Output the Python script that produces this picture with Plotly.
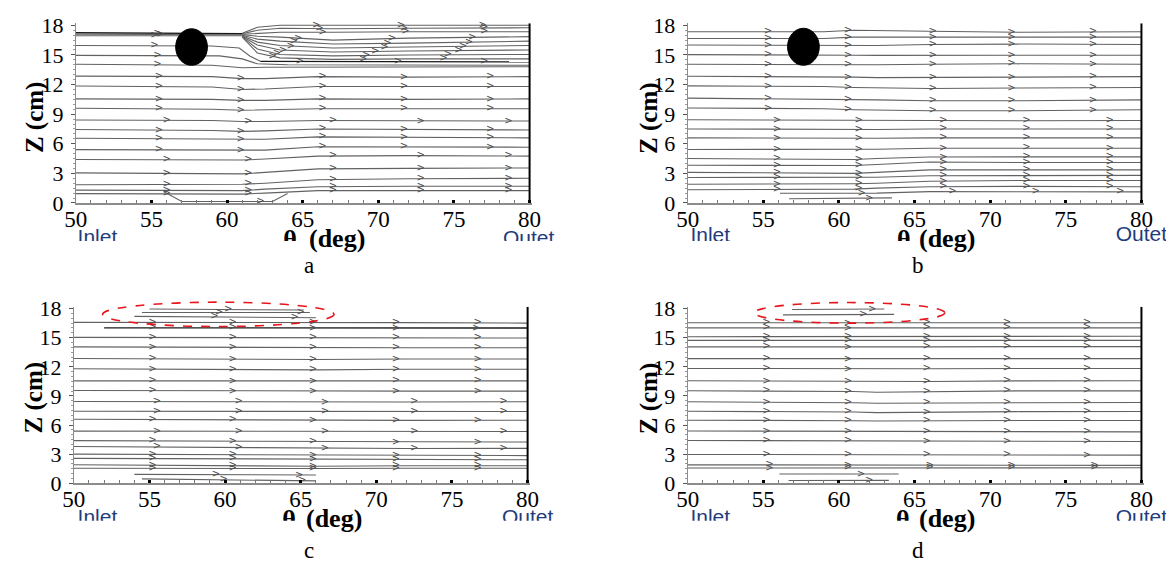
import numpy as np
import plotly.graph_objects as go

W, H = 1175, 575

# ======================= DATA =======================
TICK_X = [50, 55, 60, 65, 70, 75, 80]
TICK_Z = [0, 3, 6, 9, 12, 15, 18]

# ---- panel a (cylinder at the top, streamlines) ----
A_GRID = [50, 59, 61, 62.5, 66, 72, 80]
A_ROWS = [
    [12.85, 12.80, 12.60, 12.60, 12.80, 12.75, 12.80],
    [11.85, 11.75, 11.50, 11.55, 11.80, 11.80, 11.80],
    [10.55, 10.50, 10.40, 10.40, 10.55, 10.50, 10.55],
    [9.60, 9.50, 9.40, 9.45, 9.55, 9.55, 9.55],
    [8.40, 8.35, 8.25, 8.25, 8.35, 8.30, 8.30],
    [7.45, 7.35, 7.25, 7.30, 7.50, 7.45, 7.40],
    [6.55, 6.45, 6.40, 6.45, 6.70, 6.65, 6.60],
    [5.40, 5.35, 5.30, 5.35, 5.70, 5.70, 5.65],
    [4.40, 4.35, 4.35, 4.45, 4.75, 4.80, 4.75],
    [3.05, 3.00, 2.95, 3.10, 3.45, 3.50, 3.55],
    [1.85, 1.85, 1.90, 2.00, 2.35, 2.45, 2.50],
    [1.30, 1.30, 1.25, 1.40, 1.65, 1.70, 1.70],
    [0.95, 0.95, 0.90, 1.00, 1.25, 1.25, 1.25],
]
A_ROW_SET = [0, 0, 0, 0, 1, 0, 0, 0, 1, 1, 1, 1, 1]
A_ARROW_SETS = [[55.5, 60.9, 66.3, 71.7, 77.4], [56.0, 61.4, 67.0, 72.8, 78.6]]
A_EXTRA_X = [
    [50, 61],
    [50, 61],
    [50, 59, 60.8, 61.5, 62.2],
    [50, 59.5, 61, 62, 64, 80],
    [50, 59, 61, 62.5, 80],
    [61, 62, 63.5, 67, 72, 80],
    [61, 62, 63.5, 67, 72, 80],
    [61, 62, 63.5, 67, 72, 80],
    [61, 62, 63.5, 67, 72, 80],
    [61, 62, 63.5, 67, 72, 80],
    [61, 62, 63.5, 67, 72, 80],
    [61, 62, 63.5, 67, 72, 80],
    [61, 62, 63.5, 67, 72, 80],
    [61, 62, 63.5, 67, 72, 80],
    [55.8, 57, 63, 64],
]
A_EXTRA_Y = [
    [17.10, 17.05],
    [16.95, 16.95],
    [15.95, 15.90, 15.70, 14.90, 14.35],
    [14.95, 14.90, 14.60, 14.10, 14.00, 13.95],
    [14.05, 13.95, 13.70, 13.75, 13.80],
    [17.20, 17.80, 18.00, 18.00, 18.00, 18.00],
    [17.15, 17.50, 17.70, 17.65, 17.70, 17.75],
    [17.10, 17.20, 17.30, 17.30, 17.35, 17.35],
    [17.05, 16.90, 16.80, 16.50, 16.70, 16.85],
    [17.00, 16.60, 16.40, 16.10, 16.20, 16.40],
    [16.95, 16.30, 15.95, 15.70, 15.80, 15.95],
    [16.90, 16.00, 15.50, 15.30, 15.40, 15.50],
    [16.85, 15.60, 15.05, 14.90, 15.00, 15.05],
    [16.80, 15.20, 14.70, 14.55, 14.60, 14.60],
    [1.15, 0.15, 0.15, 0.95],
]
A_EXTRA_ARROWS = [
    [55.6], [55.2],
    [55.2], [55.4], [55.4],
    [65.9, 71.5, 76.9], [66.1, 71.7, 77.0], [66.3, 71.8, 77.0],
    [64.7, 70.9, 76.2], [64.4, 70.6, 76.0], [64.2, 70.4, 75.6],
    [63.7, 69.8, 75.3], [63.3, 69.2, 74.6], [63.0, 69.0, 74.3],
    [62.2],
]
A_DARK_X = [[50, 61], [62.2, 80]]
A_DARK_Y = [[17.25, 17.15], [14.35, 14.30]]
A_DARK_ARROWS = [[55.4], [64.8, 71.3, 77.0]]

# ---- panel b ----
B_GRID = [50, 59, 61, 62.5, 66, 72, 80]
B_ROWS = [
    [17.35, 17.35, 17.50, 17.45, 17.40, 17.30, 17.35],
    [16.67, 16.67, 16.80, 16.80, 16.80, 16.80, 16.80],
    [16.00, 16.00, 16.00, 15.95, 16.05, 16.10, 16.05],
    [15.03, 15.03, 14.97, 14.95, 14.95, 14.97, 14.97],
    [14.05, 14.00, 14.00, 14.00, 14.05, 14.10, 14.05],
    [12.84, 12.80, 12.75, 12.70, 12.70, 12.75, 12.80],
    [11.86, 11.80, 11.70, 11.65, 11.60, 11.65, 11.70],
    [10.62, 10.55, 10.50, 10.45, 10.35, 10.35, 10.45],
    [9.62, 9.55, 9.45, 9.40, 9.35, 9.35, 9.45],
    [8.43, 8.38, 8.33, 8.33, 8.33, 8.33, 8.35],
    [7.50, 7.45, 7.40, 7.45, 7.50, 7.50, 7.50],
    [6.60, 6.55, 6.50, 6.55, 6.60, 6.60, 6.60],
    [5.42, 5.40, 5.40, 5.45, 5.55, 5.57, 5.55],
    [4.51, 4.45, 4.40, 4.50, 4.65, 4.67, 4.67],
    [3.82, 3.80, 3.80, 3.90, 4.15, 4.10, 4.10],
    [3.10, 3.05, 3.00, 3.10, 3.35, 3.35, 3.35],
    [2.58, 2.55, 2.55, 2.60, 2.75, 2.80, 2.80],
    [1.90, 1.90, 1.95, 2.00, 2.20, 2.28, 2.28],
    [1.34, 1.35, 1.40, 1.50, 1.65, 1.68, 1.65],
]
B_ROW_SET = [0, 0, 0, 0, 0, 0, 0, 0, 0, 1, 1, 1, 1, 1, 1, 1, 1, 1, 1]
B_ARROW_SETS = [[55.3, 60.6, 66.2, 71.4, 76.8], [55.9, 61.3, 66.9, 72.4, 77.9]]
B_EXTRA_X = [[56.1, 59, 61, 62.5, 66, 72, 80], [56.7, 63.5]]
B_EXTRA_Y = [[0.98, 0.98, 0.95, 1.00, 1.15, 1.12, 1.12], [0.42, 0.52]]
B_EXTRA_ARROWS = [[61.5, 67.5, 73.0, 78.6], [62.0]]
B_DARK_X, B_DARK_Y, B_DARK_ARROWS = [], [], []

# ---- panel c ----
C_GRID = [50, 59, 61, 62.5, 66, 72, 80]
C_ROWS = [
    [16.58, 16.58, 16.58, 16.55, 16.52, 16.55, 16.50],
    [15.03, 15.03, 15.00, 15.00, 14.97, 15.00, 14.97],
    [14.05, 14.00, 14.00, 13.97, 13.97, 13.97, 13.97],
    [12.86, 12.80, 12.78, 12.75, 12.75, 12.80, 12.80],
    [11.80, 11.75, 11.72, 11.70, 11.68, 11.75, 11.75],
    [10.55, 10.55, 10.52, 10.50, 10.50, 10.55, 10.55],
    [9.56, 9.52, 9.50, 9.48, 9.47, 9.50, 9.50],
    [8.42, 8.40, 8.38, 8.35, 8.32, 8.38, 8.40],
    [7.42, 7.42, 7.40, 7.38, 7.35, 7.38, 7.40],
    [6.60, 6.55, 6.55, 6.50, 6.48, 6.48, 6.50],
    [5.37, 5.37, 5.35, 5.33, 5.33, 5.33, 5.33],
    [4.39, 4.35, 4.33, 4.30, 4.25, 4.25, 4.25],
    [3.79, 3.72, 3.70, 3.65, 3.60, 3.58, 3.60],
    [3.00, 2.95, 2.95, 2.90, 2.85, 2.85, 2.85],
    [2.57, 2.52, 2.50, 2.45, 2.42, 2.42, 2.42],
    [1.91, 1.85, 1.80, 1.75, 1.75, 1.80, 1.80],
    [1.55, 1.52, 1.50, 1.50, 1.52, 1.55, 1.55],
]
C_ROW_SET = [0, 0, 0, 0, 0, 0, 0, 1, 1, 0, 1, 0, 1, 0, 0, 0, 0]
C_ARROW_SETS = [[55.2, 60.5, 65.8, 71.3, 76.7], [55.5, 60.9, 66.6, 72.5, 78.4]]
C_EXTRA_X = [[54.0, 59.8, 65.0, 66.0], [54.5, 60.0, 66.0],
             [55.0, 65.2], [54.5, 65.6], [54.0, 66.0]]
C_EXTRA_Y = [[0.92, 0.92, 0.85, 0.85], [0.45, 0.36, 0.25],
             [17.95, 17.85], [17.60, 17.60], [17.20, 17.05]]
C_EXTRA_ARROWS = [[59.4, 64.9], [59.9, 65.1], [60.2], [59.6, 65.0], [59.3, 64.6]]
C_DARK_X = [[52.0, 61, 66, 80]]
C_DARK_Y = [[16.02, 16.02, 15.98, 16.00]]
C_DARK_ARROWS = [[55.2, 60.5, 65.8, 71.3, 76.6]]

# ---- panel d ----
D_GRID = [50, 59, 61, 62.5, 66, 72, 80]
D_ROWS = [
    [16.54, 16.54, 16.50, 16.52, 16.54, 16.54, 16.54],
    [16.01, 16.01, 15.97, 15.98, 16.01, 16.01, 16.01],
    [15.10, 15.10, 15.08, 15.10, 15.15, 15.15, 15.15],
    [14.72, 14.72, 14.70, 14.70, 14.72, 14.72, 14.72],
    [14.05, 14.05, 14.00, 14.02, 14.05, 14.08, 14.08],
    [12.84, 12.82, 12.78, 12.80, 12.84, 12.84, 12.84],
    [11.83, 11.80, 11.76, 11.76, 11.80, 11.83, 11.83],
    [10.56, 10.52, 10.50, 10.45, 10.48, 10.55, 10.56],
    [9.54, 9.50, 9.45, 9.38, 9.45, 9.52, 9.52],
    [8.40, 8.35, 8.30, 8.25, 8.28, 8.33, 8.33],
    [7.42, 7.40, 7.35, 7.28, 7.32, 7.38, 7.40],
    [6.50, 6.50, 6.45, 6.42, 6.45, 6.47, 6.47],
    [5.39, 5.37, 5.35, 5.33, 5.33, 5.35, 5.30],
    [4.41, 4.38, 4.35, 4.35, 4.35, 4.35, 4.30],
    [2.97, 2.97, 2.95, 2.93, 2.92, 2.92, 2.90],
    [1.90, 1.88, 1.85, 1.82, 1.82, 1.85, 1.85],
    [1.57, 1.57, 1.60, 1.60, 1.60, 1.60, 1.60],
]
D_ROW_SET = [0, 0, 0, 0, 0, 0, 0, 0, 0, 0, 0, 0, 0, 0, 0, 1, 1]
D_ARROW_SETS = [[55.2, 60.6, 65.8, 71.1, 76.4], [55.4, 60.6, 66.0, 71.4, 76.9]]
D_EXTRA_X = [[56.9, 63.0], [56.3, 63.65], [56.06, 63.95], [56.67, 63.3]]
D_EXTRA_Y = [[17.90, 17.95], [17.35, 17.40], [0.95, 0.95], [0.28, 0.30]]
D_EXTRA_ARROWS = [[62.2], [61.6], [61.45], [62.0]]
D_DARK_X, D_DARK_Y, D_DARK_ARROWS = [], [], []

# cylinder (panels a, b) and highlighted regions (panels c, d): theta0, theta1, z0, z1
CYL_A = [56.6, 58.7, 13.95, 17.65]
CYL_B = [56.6, 58.7, 13.95, 17.70]
ZONE_C = [51.9, 67.2, 16.15, 18.66]
ZONE_D = [54.4, 67.0, 16.50, 18.62]

# ======================= LAYOUT GEOMETRY (pixels) =======================
PX_DEG = 15.4
XMAX = 80.15
ZMAX = 18.2
PANELS = {
    1: dict(x0=65, y0=201, pz=10.28),
    2: dict(x0=688, y0=201, pz=10.28),
    3: dict(x0=63, y0=493, pz=10.11),
    4: dict(x0=688, y0=493, pz=10.11),
}

LINE_C = "#626262"
ARROW_C = "#4d4d4d"
SERIF = "Liberation Serif"

fig = go.Figure()


def ax_names(k):
    return ("x" if k == 1 else f"x{k}"), ("y" if k == 1 else f"y{k}")


def to_paper(k, th, z):
    p = PANELS[k]
    px = p["x0"] + (th - 50) * PX_DEG
    py = p["y0"] - z * p["pz"]
    return px / W, 1 - py / H


def add_panel(k, grid, rows, row_set, arrow_sets, ex_x, ex_y, ex_arw, dk_x, dk_y, dk_arw):
    xa, ya = ax_names(k)
    ax_pts, ay_pts = [], []

    def put(xs, ys, arrows, color, width):
        fig.add_trace(go.Scatter(x=xs, y=ys, mode="lines", xaxis=xa, yaxis=ya,
                                 line=dict(color=color, width=width),
                                 hoverinfo="skip", showlegend=False))
        for a in arrows:
            if xs[0] <= a <= xs[-1]:
                ax_pts.append(a)
                ay_pts.append(float(np.interp(a, xs, ys)))

    for r, s in zip(rows, row_set):
        put(grid, r, arrow_sets[s], LINE_C, 1.1)
    for xs, ys, ar in zip(ex_x, ex_y, ex_arw):
        put(xs, ys, ar, LINE_C, 1.1)
    for xs, ys, ar in zip(dk_x, dk_y, dk_arw):
        put(xs, ys, ar, "#1a1a1a", 1.3)

    # chevron arrowheads ( > ) sitting on the streamlines
    fig.add_trace(go.Scatter(x=ax_pts, y=ay_pts, mode="text", xaxis=xa, yaxis=ya,
                             text=[">"] * len(ax_pts), textposition="middle center",
                             textfont=dict(family="DejaVu Sans", size=10, color=ARROW_C),
                             hoverinfo="skip", showlegend=False, cliponaxis=False))


add_panel(1, A_GRID, A_ROWS, A_ROW_SET, A_ARROW_SETS, A_EXTRA_X, A_EXTRA_Y, A_EXTRA_ARROWS,
          A_DARK_X, A_DARK_Y, A_DARK_ARROWS)
add_panel(2, B_GRID, B_ROWS, B_ROW_SET, B_ARROW_SETS, B_EXTRA_X, B_EXTRA_Y, B_EXTRA_ARROWS,
          B_DARK_X, B_DARK_Y, B_DARK_ARROWS)
add_panel(3, C_GRID, C_ROWS, C_ROW_SET, C_ARROW_SETS, C_EXTRA_X, C_EXTRA_Y, C_EXTRA_ARROWS,
          C_DARK_X, C_DARK_Y, C_DARK_ARROWS)
add_panel(4, D_GRID, D_ROWS, D_ROW_SET, D_ARROW_SETS, D_EXTRA_X, D_EXTRA_Y, D_EXTRA_ARROWS,
          D_DARK_X, D_DARK_Y, D_DARK_ARROWS)

layout = dict(width=W, height=H, margin=dict(l=0, r=0, t=0, b=0),
              paper_bgcolor="white", plot_bgcolor="rgba(0,0,0,0)", showlegend=False)

shapes = []
for k, p in PANELS.items():
    xa, ya = ax_names(k)
    xk = "xaxis" if k == 1 else f"xaxis{k}"
    yk = "yaxis" if k == 1 else f"yaxis{k}"
    xd = [p["x0"] / W, (p["x0"] + (XMAX - 50) * PX_DEG) / W]
    yd = [1 - p["y0"] / H, 1 - (p["y0"] - ZMAX * p["pz"]) / H]
    layout[xk] = dict(domain=xd, range=[50, XMAX], anchor=ya, tickvals=TICK_X,
                      ticks="inside", ticklen=3, tickwidth=3, tickcolor="black",
                      showline=True, linecolor="#8c8c8c", linewidth=2,
                      showgrid=False, zeroline=False, ticklabelstandoff=-6,
                      minor=dict(dtick=1, ticks="inside", ticklen=3, tickwidth=1, tickcolor="#777"),
                      tickfont=dict(family=SERIF, size=23, color="black"))
    layout[yk] = dict(domain=yd, range=[0, ZMAX], anchor=xa, tickvals=TICK_Z,
                      ticks="outside", ticklen=4, tickwidth=1, tickcolor="#555",
                      showline=True, linecolor="#8c8c8c", linewidth=1,
                      showgrid=False, zeroline=False, ticklabelstandoff=3,
                      minor=dict(dtick=0.5, ticks="outside", ticklen=2, tickwidth=1, tickcolor="#999"),
                      tickfont=dict(family=SERIF, size=22, color="black"))
    # right (outlet) boundary
    shapes.append(dict(type="line", xref=xa, yref=ya, x0=80, x1=80, y0=0, y1=ZMAX,
                       line=dict(color="black", width=2)))

for k, c in ((1, CYL_A), (2, CYL_B)):
    xa, ya = ax_names(k)
    shapes.append(dict(type="circle", xref=xa, yref=ya, x0=c[0], x1=c[1], y0=c[2], y1=c[3],
                       fillcolor="black", line=dict(color="black", width=1)))
for k, zn in ((3, ZONE_C), (4, ZONE_D)):
    px0, py0 = to_paper(k, zn[0], zn[2])
    px1, py1 = to_paper(k, zn[1], zn[3])
    shapes.append(dict(type="circle", xref="paper", yref="paper", x0=px0, x1=px1, y0=py0, y1=py1,
                       line=dict(color="#e8141b", width=1.6, dash="dash")))
layout["shapes"] = shapes

# clipped bottom labels (Inlet / Outet / theta) via text-only overlay subplots
for idx, (ytop, ybot) in ((5, (200, 240.5)), (6, (495, 532))):
    layout[f"xaxis{idx}"] = dict(domain=[0, 1], range=[0, W], visible=False, anchor=f"y{idx}",
                                 fixedrange=True)
    layout[f"yaxis{idx}"] = dict(domain=[1 - ybot / H, 1 - ytop / H], range=[ybot, ytop],
                                 visible=False, anchor=f"x{idx}", fixedrange=True)

LBL_BLUE = "#1f3c7c"
for idx, rows in ((5, [("Inlet", 87, 238), ("Outet", 526, 239), ("Inlet", 711, 236), ("Outet", 1150, 235)]),
                  (6, [("Inlet", 87, 530), ("Outet", 525, 530), ("Inlet", 711, 530), ("Outet", 1150, 530)])):
    fig.add_trace(go.Scatter(x=[r[1] for r in rows], y=[r[2] for r in rows], text=[r[0] for r in rows],
                             mode="text", xaxis=f"x{idx}", yaxis=f"y{idx}",
                             textfont=dict(family="Liberation Sans", size=21, color=LBL_BLUE),
                             hoverinfo="skip", showlegend=False))
for idx, pts in ((5, [(283, 241), (908, 241)]), (6, [(282, 533), (907, 533)])):
    fig.add_trace(go.Scatter(x=[p[0] for p in pts], y=[p[1] for p in pts], text=["<b>θ</b>"] * 2,
                             mode="text", xaxis=f"x{idx}", yaxis=f"y{idx}",
                             textfont=dict(family=SERIF, size=26, color="black"),
                             hoverinfo="skip", showlegend=False))

ann = []
for (x, y) in ((331, 238), (952, 238), (328, 530), (952, 530)):
    ann.append(dict(text="<b>(deg)</b>", x=x / W, y=1 - y / H, xref="paper", yref="paper",
                    showarrow=False, xanchor="center", yanchor="middle",
                    font=dict(family=SERIF, size=26, color="black")))
for (x, y) in ((23, 112), (648, 112), (22, 404), (648, 404)):
    ann.append(dict(text="<b>Z (cm)</b>", x=x / W, y=1 - y / H, xref="paper", yref="paper",
                    showarrow=False, xanchor="center", yanchor="middle", textangle=-90,
                    font=dict(family=SERIF, size=25, color="black")))
for t, (x, y) in zip("abcd", ((302, 266), (922, 266), (302, 563), (922, 563))):
    ann.append(dict(text=t, x=x / W, y=1 - y / H, xref="paper", yref="paper",
                    showarrow=False, xanchor="center", yanchor="middle",
                    font=dict(family=SERIF, size=23, color="black")))
layout["annotations"] = ann

fig.update_layout(**layout)
fig.write_html("out.html")
